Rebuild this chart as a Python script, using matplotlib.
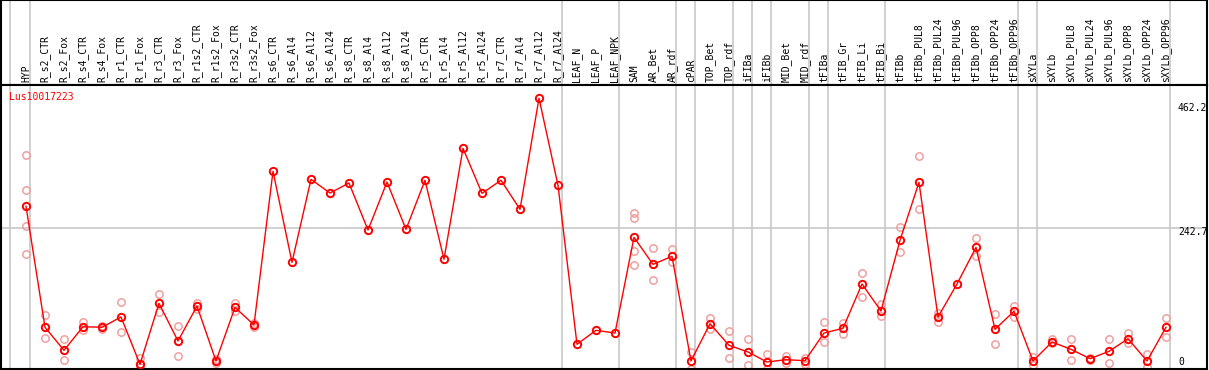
import matplotlib
matplotlib.use('Agg')
import matplotlib.pyplot as plt
import numpy as np

gene = 'Lus10017223'

samples = ['HYP',
           'R_s2_CTR', 'R_s2_Fox', 'R_s4_CTR', 'R_s4_Fox', 'R_r1_CTR', 'R_r1_Fox',
           'R_r3_CTR', 'R_r3_Fox', 'R_r1s2_CTR', 'R_r1s2_Fox', 'R_r3s2_CTR', 'R_r3s2_Fox',
           'R_s6_CTR', 'R_s6_Al4', 'R_s6_Al12', 'R_s6_Al24', 'R_s8_CTR', 'R_s8_Al4',
           'R_s8_Al12', 'R_s8_Al24', 'R_r5_CTR', 'R_r5_Al4', 'R_r5_Al12', 'R_r5_Al24',
           'R_r7_CTR', 'R_r7_Al4', 'R_r7_Al12', 'R_r7_Al24',
           'LEAF_N', 'LEAF_P', 'LEAF_NPK',
           'SAM', 'AR_Bet', 'AR_rdf',
           'cPAR',
           'TOP_Bet', 'TOP_rdf',
           'iFIBa',
           'iFIBb',
           'MID_Bet', 'MID_rdf',
           'tFIBa',
           'tFIB_Gr', 'tFIB_Li', 'tFIB_Bi',
           'tFIBb', 'tFIBb_PUL8', 'tFIBb_PUL24', 'tFIBb_PUL96', 'tFIBb_OPP8',
           'tFIBb_OPP24', 'tFIBb_OPP96',
           'sXYLa',
           'sXYLb', 'sXYLb_PUL8', 'sXYLb_PUL24', 'sXYLb_PUL96', 'sXYLb_OPP8',
           'sXYLb_OPP24', 'sXYLb_OPP96']

# number of samples in each tissue block (grey separators)
group_sizes = [1, 28, 3, 3, 1, 2, 1, 1, 2, 1, 3, 7, 1, 7]

means = [279.8,
         75.5, 36.6, 76.5, 75.5, 92.9, 13.0, 116.0, 52.3, 111.4, 18.6, 109.2, 79.4,
         338.9, 185.2, 325.3, 302.2, 319.1, 239.7, 320.8, 240.9,
         323.7, 190.3, 377.7, 301.7, 323.7, 274.7, 462.2, 315.2,
         46.8, 70.4, 65.8,
         227.4, 181.8, 195.3,
         18.6,
         81.5, 45.1,
         33.8,
         16.9,
         20.8, 19.1,
         65.8,
         73.8, 148.6, 103.0,
         222.4, 320.3, 92.9, 148.6, 210.5, 72.1, 102.5,
         18.6,
         50.7, 38.3, 22.5, 34.9, 56.2, 18.6, 75.5]

replicates = [[366.4, 306.8, 247.0, 198.7],
              [96.2, 56.9], [55.2, 19.8], [84.4, 70.9], [77.7, 73.4], [117.7, 67.0],
              [23.1, 8.4], [131.7, 100.8], [77.2, 26.5], [117.0, 105.9], [21.4, 14.7],
              [116.0, 102.5], [82.2, 75.5],
              [], [], [], [], [], [], [], [],
              [], [], [], [], [], [], [], [],
              [], [], [],
              [267.9, 259.5, 203.8, 180.1], [208.8, 154.8], [207.7, 185.7],
              [34.3, 5.6],
              [90.7, 72.6], [68.7, 23.1],
              [55.2, 11.3],
              [29.9, 4.6],
              [27.0, 14.7], [24.1, 13.0],
              [83.9, 50.1],
              [82.7, 63.7], [166.6, 127.1], [114.3, 94.0],
              [244.3, 202.6], [364.2, 274.7], [99.6, 84.4], [], [225.7, 195.8],
              [97.4, 46.8], [111.4, 92.4],
              [25.8, 11.8],
              [55.2, 48.5], [55.2, 20.3], [24.0, 21.0], [55.2, 14.7], [66.4, 48.5],
              [29.9, 7.9], [90.7, 58.6]]

axis_labels = ['462.2', '242.7', '0']

W, H = 1209, 370
fig = plt.figure(figsize=(W / 100, H / 100), dpi=100)
fig.patch.set_facecolor('white')

left = 1 / W
width = 1206 / W
ax_h = fig.add_axes([left, (H - 85) / H, width, 85 / H])
ax = fig.add_axes([left, 1 / H, width, 284 / H], sharex=ax_h)

x = np.arange(len(samples))
xlo = (1 - 26) / 19
xhi = (1207 - 26) / 19
ax.set_xlim(xlo, xhi)

# group separators
ends = np.cumsum(group_sizes) - 1
seps = [(10 - 26) / 19] + list(ends + 0.22)
for a in (ax, ax_h):
    for s in seps:
        a.axvline(s, color='#c8c8c8', lw=1.2, zorder=0)
    for sp in a.spines.values():
        sp.set_color('black')
        sp.set_linewidth(1.5)
    a.set_xticks([])
    a.set_yticks([])

ax_h.set_ylim(0, 1)
for xi, lab in zip(x, samples):
    ax_h.text(xi, 0.03, lab, rotation=90, ha='center', va='bottom',
              fontsize=7, family='DejaVu Sans Mono')

ax.set_ylim(5.07, 484.6)
ax.axhline(242.7, color='#c8c8c8', lw=1.2, zorder=0)

for xi, reps in zip(x, replicates):
    if reps:
        ax.plot([xi] * len(reps), reps, 'o', ms=5.3, mfc='none', mec='#f0a0a0',
                mew=1.1, zorder=2, clip_on=True)

ax.plot(x, means, '-', color='red', lw=1.0, zorder=3)
ax.plot(x, means, 'o', ms=5.3, mfc='none', mec='red', mew=1.4, zorder=4)

ax.text(8 / 1206, 1 - 12 / 284, gene, color='red', fontsize=7,
        family='DejaVu Sans Mono', transform=ax.transAxes, va='center', ha='left')

label_pos = [0.919, 0.483, 0.0257]
for lab, yp in zip(axis_labels, label_pos):
    ax.text(1177 / 1206, yp, lab, fontsize=7, family='DejaVu Sans Mono',
            transform=ax.transAxes, va='center', ha='left', clip_on=True)

fig.savefig('out.png', dpi=100, facecolor='white')
